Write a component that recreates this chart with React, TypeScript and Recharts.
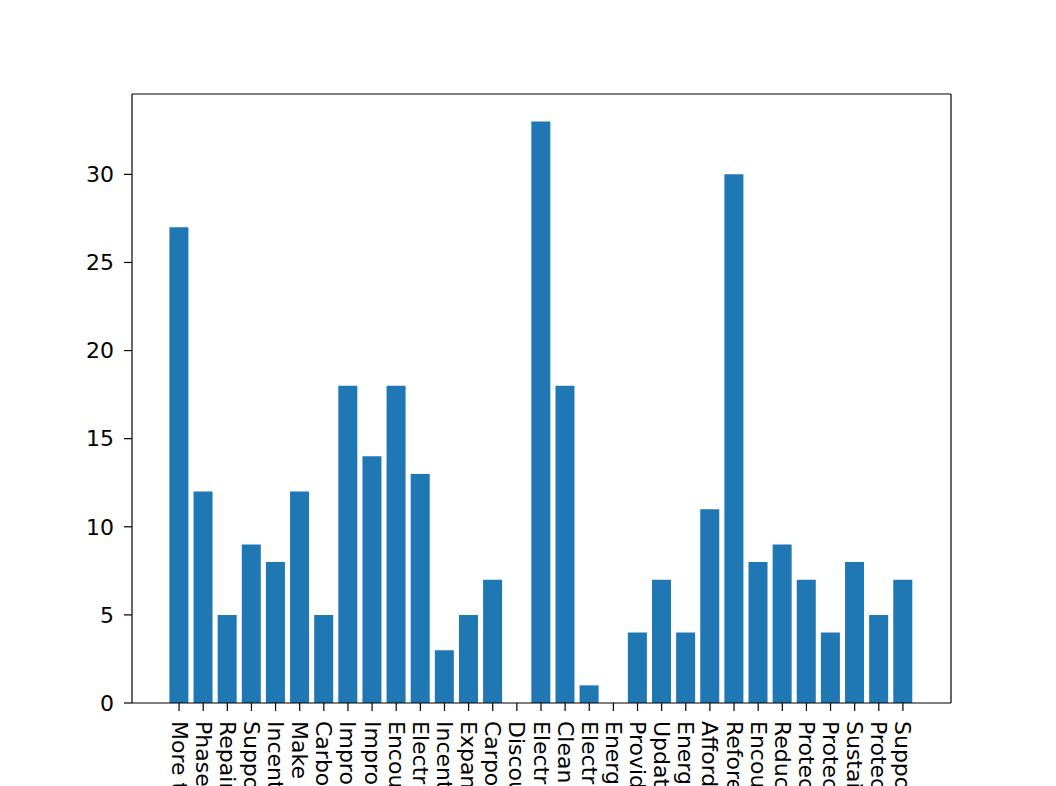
import { Bar, BarChart, XAxis, YAxis } from "recharts";

const measures = [
  "More trees in cities",
  "Phase out coal",
  "Repair and reuse",
  "Support renewables",
  "Incentives for EVs",
  "Make transit free",
  "Carbon tax",
  "Improve public transport",
  "Improve insulation",
  "Encourage cycling",
  "Electric buses",
  "Incentives for solar",
  "Expand bike lanes",
  "Carpooling",
  "Discourage flying",
  "Electricity from renewables",
  "Clean energy",
  "Electrify heating",
  "Energy audits",
  "Provide recycling bins",
  "Update building codes",
  "Energy saving lamps",
  "Affordable transit",
  "Reforestation",
  "Encourage remote work",
  "Reduce food waste",
  "Protect forests",
  "Protect wetlands",
  "Sustainable farming",
  "Protect biodiversity",
  "Support local farmers",
];

const votes = [
  27, 12, 5, 9, 8, 12, 5, 18, 14, 18, 13, 3, 5, 7, 0, 33, 18, 1, 0, 4, 7, 4,
  11, 30, 8, 9, 7, 4, 8, 5, 7,
];

const yTicks = [0, 5, 10, 15, 20, 25, 30];
const yMax = 34.56;

const data = measures.map((name, i) => ({ name, votes: votes[i] }));

const FONT = "DejaVu Sans, sans-serif";
const spine = { stroke: "#000", strokeWidth: 1.2 };

const RotatedTick = (props: any) => {
  const { x, y, payload } = props;
  return (
    <text
      x={x}
      y={y}
      transform={`rotate(90, ${x}, ${y})`}
      textAnchor="start"
      dominantBaseline="central"
      fontFamily={FONT}
      fontSize={22}
      fill="#000"
    >
      {payload.value}
    </text>
  );
};

const App = () => (
  <div
    style={{
      position: "absolute",
      left: 0,
      top: 0,
      width: 1056,
      height: 786,
      overflow: "hidden",
      background: "#fff",
    }}
  >
    <BarChart
      width={1056}
      height={786}
      data={data}
      margin={{ top: 93, right: 104, left: 82, bottom: 0 }}
      barCategoryGap="10%"
    >
      <XAxis
        dataKey="name"
        height={83}
        interval={0}
        padding={{ left: 35, right: 36 }}
        tickSize={8}
        tickMargin={10}
        tick={<RotatedTick />}
        axisLine={spine}
        tickLine={spine}
      />
      <XAxis
        xAxisId="top"
        dataKey="name"
        orientation="top"
        height={1}
        interval={0}
        padding={{ left: 35, right: 36 }}
        tick={false}
        tickLine={false}
        axisLine={spine}
      />
      <YAxis
        width={50}
        type="number"
        domain={[0, yMax]}
        ticks={yTicks}
        tickSize={8}
        tickMargin={10}
        tick={{ fontFamily: FONT, fontSize: 22, fill: "#000" }}
        axisLine={spine}
        tickLine={spine}
      />
      <YAxis
        yAxisId="right"
        orientation="right"
        width={1}
        type="number"
        domain={[0, yMax]}
        ticks={yTicks}
        tick={false}
        tickLine={false}
        axisLine={spine}
      />
      <Bar dataKey="votes" fill="#1f77b4" isAnimationActive={false} />
    </BarChart>
  </div>
);

export default App;
